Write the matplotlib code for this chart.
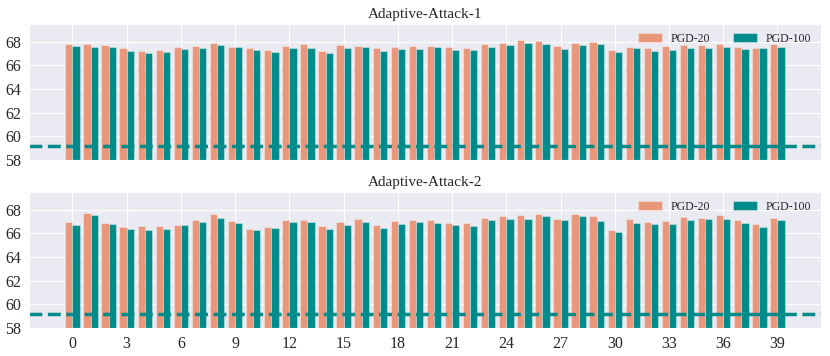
import numpy as np
import matplotlib
matplotlib.use('Agg')
import matplotlib.pyplot as plt
import seaborn as sns

sns.set_style('darkgrid')
plt.rcParams['font.family'] = ['Liberation Serif', 'DejaVu Serif']
plt.rcParams['font.size'] = 11

# ---------------------------------------------------------------------------
epochs = np.arange(40)
xticks = np.arange(0, 40, 3)

attack1_pgd20 = [67.79, 67.82, 67.73, 67.43, 67.25, 67.34, 67.52, 67.64, 67.91, 67.58,
                 67.43, 67.28, 67.61, 67.78, 67.19, 67.70, 67.61, 67.46, 67.58, 67.61,
                 67.64, 67.52, 67.46, 67.85, 67.88, 68.15, 68.06, 67.61, 67.88, 68.00,
                 67.34, 67.55, 67.43, 67.61, 67.73, 67.70, 67.79, 67.55, 67.49, 67.82]
attack1_pgd100 = [67.61, 67.58, 67.52, 67.25, 67.01, 67.16, 67.40, 67.46, 67.76, 67.52,
                  67.28, 67.13, 67.46, 67.49, 67.07, 67.43, 67.52, 67.25, 67.37, 67.37,
                  67.55, 67.31, 67.31, 67.52, 67.73, 67.91, 67.79, 67.37, 67.73, 67.82,
                  67.16, 67.43, 67.25, 67.31, 67.49, 67.49, 67.52, 67.37, 67.43, 67.58]

attack2_pgd20 = [67.00, 67.74, 66.89, 66.57, 66.63, 66.63, 66.74, 67.14, 67.60, 67.06,
                 66.40, 66.57, 67.09, 67.14, 66.66, 67.00, 67.23, 66.71, 67.06, 67.11,
                 67.14, 66.86, 66.86, 67.31, 67.43, 67.57, 67.66, 67.23, 67.63, 67.43,
                 66.31, 67.23, 66.97, 67.06, 67.37, 67.34, 67.54, 67.09, 66.83, 67.34]
attack2_pgd100 = [66.71, 67.57, 66.77, 66.34, 66.31, 66.34, 66.71, 66.94, 67.34, 66.89,
                  66.29, 66.46, 67.00, 66.94, 66.40, 66.71, 66.97, 66.49, 66.77, 66.97,
                  66.91, 66.71, 66.60, 67.14, 67.23, 67.20, 67.49, 67.14, 67.46, 67.03,
                  66.11, 66.89, 66.80, 66.83, 67.14, 67.20, 67.23, 66.89, 66.57, 67.11]

baseline = 59.15
titles = ['Adaptive-Attack-1', 'Adaptive-Attack-2']
series = [(attack1_pgd20, attack1_pgd100), (attack2_pgd20, attack2_pgd100)]

c20 = '#E9967A'
c100 = '#008B8B'
w = 0.4

fig = plt.figure(figsize=(8.3, 3.56), dpi=100)
boxes = [[0.035, 0.5506, 0.954, 0.382], [0.035, 0.0787, 0.954, 0.382]]

for i in range(2):
    ax = fig.add_axes(boxes[i])
    p20, p100 = series[i]
    ax.bar(epochs - w, p20, width=w, align='edge', color=c20,
           edgecolor=(1, 1, 1, 0.35), linewidth=0.8, label='PGD-20')
    ax.bar(epochs, p100, width=w, align='edge', color=c100,
           edgecolor=(1, 1, 1, 0.35), linewidth=0.8, label='PGD-100')
    ax.axhline(baseline, color=c100, linestyle='--', lw=2.5)
    ax.set_xlim(-2.4, 41.4)
    ax.set_ylim(58, 69.5)
    ax.set_yticks(np.arange(58, 69, 2))
    ax.set_xticks(xticks)
    if i == 0:
        ax.set_xticklabels([])
    ax.tick_params(axis='both', labelsize=11.5, pad=2)
    ax.set_title(titles[i], fontsize=11, pad=4)
    ax.legend(loc='center right', ncol=2, frameon=False, fontsize=8.5,
              handlelength=2.0, handleheight=0.76, columnspacing=1.95,
              handletextpad=0.76, borderaxespad=0, bbox_to_anchor=(0.994, 0.89))

plt.savefig('out.png', dpi=100)
